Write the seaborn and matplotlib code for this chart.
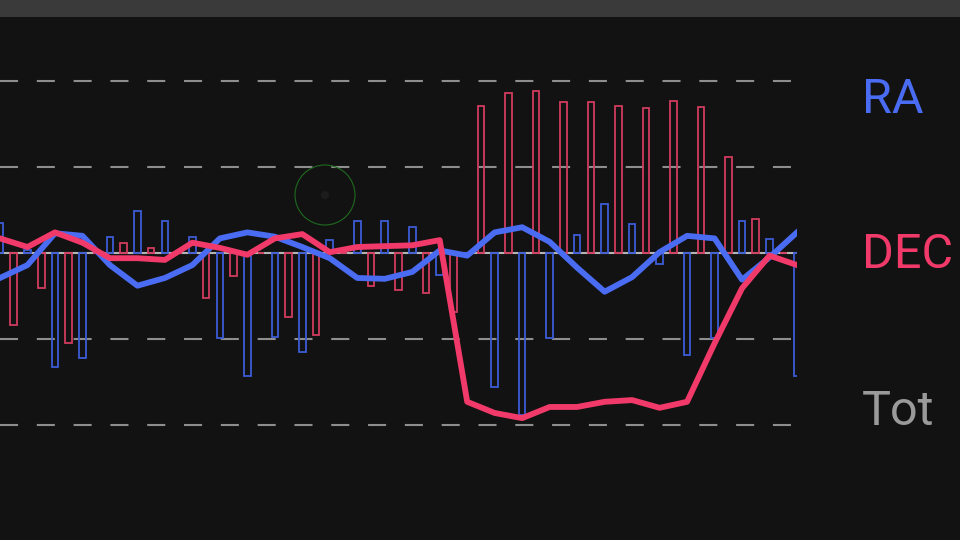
import numpy as np
import pandas as pd
import matplotlib
matplotlib.use('Agg')
import matplotlib.pyplot as plt
import seaborn as sns
from matplotlib.patches import Rectangle, Ellipse

# --- Data (guide errors, one grid step = 1 unit) ---
steps = list(range(30))
ra_line = [-0.29, -0.14, 0.23, 0.20, -0.14, -0.38, -0.29, -0.14, 0.17, 0.24,
           0.19, 0.07, -0.06, -0.29, -0.30, -0.22, 0.03, -0.03, 0.24, 0.30,
           0.13, -0.17, -0.45, -0.28, 0.01, 0.20, 0.17, -0.31, -0.05, 0.24]
dec_line = [0.17, 0.07, 0.24, 0.12, -0.06, -0.06, -0.08, 0.12, 0.06, -0.02,
            0.17, 0.22, 0.01, 0.07, 0.08, 0.09, 0.15, -1.73, -1.86, -1.92,
            -1.79, -1.79, -1.73, -1.71, -1.80, -1.73, -1.05, -0.41, -0.03, -0.14]
ra_bars = [0.35, 0.03, -1.33, -1.22, 0.19, 0.49, 0.37, 0.19, -0.99, -1.43,
           -0.98, -1.15, 0.15, 0.37, 0.37, 0.30, -0.26, 0.0, -1.56, -1.88,
           -0.99, 0.21, 0.57, 0.34, -0.13, -1.19, -0.99, 0.37, 0.16, -1.43]
dec_bars = [-0.84, -0.41, -1.05, 0.0, 0.12, 0.06, 0.0, -0.52, -0.27, 0.0,
            -0.74, -0.95, 0.0, -0.38, -0.43, -0.47, -0.69, 1.71, 1.86, 1.88,
            1.76, 1.76, 1.71, 1.69, 1.77, 1.70, 1.12, 0.40, 0.0]
labels = ['RA', 'DEC', 'Tot']

# --- Style ---
bg = '#121212'
ra_col = '#4a6cf2'
dec_col = '#f23a6a'
ra_bar_col = '#3d5bd6'
dec_bar_col = '#d23b5e'
plt.rcParams['lines.scale_dashes'] = False

fig = plt.figure(figsize=(9.6, 5.4), dpi=100, facecolor=bg)
ax = fig.add_axes([0, 0, 797 / 960, 522 / 540])
ax.set_facecolor(bg)

# grid lines
for g in [2, 1, -1, -2]:
    ax.axhline(g, color='#8e8e8e', lw=1.5, dashes=(13, 13.5), zorder=1)
ax.axhline(0, color='#b4b4b4', lw=1.5, zorder=2)

# bars (outlined)
ax.bar(steps, ra_bars, width=0.24, facecolor='none', edgecolor=ra_bar_col, lw=1.3, zorder=3)
ax.bar(np.arange(len(dec_bars)) + 0.5, dec_bars, width=0.24, facecolor='none',
       edgecolor=dec_bar_col, lw=1.3, zorder=3)

# lines
df = pd.DataFrame({'step': steps, 'RA': ra_line, 'DEC': dec_line})
sns.lineplot(data=df, x='step', y='RA', ax=ax, color=ra_col, lw=4.2, zorder=4)
sns.lineplot(data=df, x='step', y='DEC', ax=ax, color=dec_col, lw=4.2, zorder=5)

ax.set_xlim(0, 29)
ax.set_ylim(-3.337, 2.733)
ax.axis('off')

# touch indicator
fig.add_artist(Ellipse((325 / 960, 1 - 195 / 540), 60 / 960, 60 / 540,
                       transform=fig.transFigure, fill=False,
                       edgecolor='#1f6a1f', lw=0.8))
fig.add_artist(Ellipse((325 / 960, 1 - 195 / 540), 8 / 960, 8 / 540,
                       transform=fig.transFigure, facecolor='#1c1c1c',
                       edgecolor='none'))

# top bar
fig.add_artist(Rectangle((0, 1 - 17 / 540), 1, 17 / 540, transform=fig.transFigure,
                         facecolor='#3a3a3a', edgecolor='none'))

# legend labels
for lab, col, yy in zip(labels, [ra_col, dec_col, '#9a9a9a'], [100, 255, 412]):
    fig.text(862 / 960, 1 - yy / 540, lab, color=col, fontsize=35, family='Roboto',
             ha='left', va='center')

fig.savefig('out.png', dpi=100, facecolor=bg)
